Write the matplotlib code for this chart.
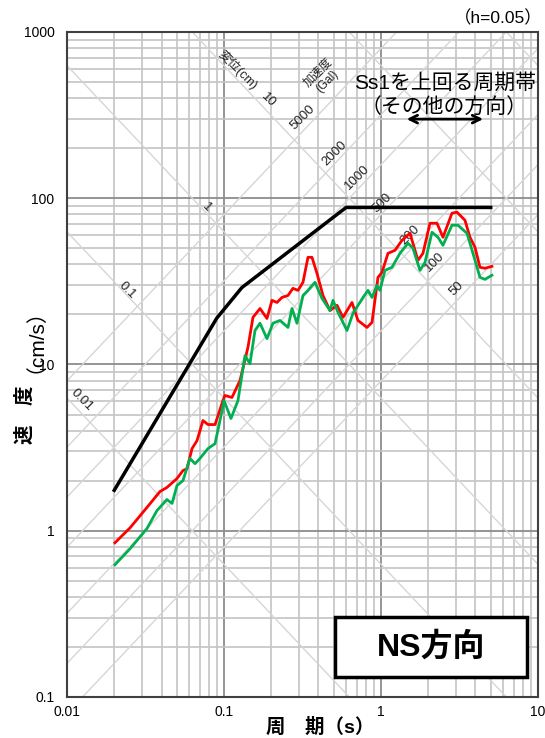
import numpy as np
import matplotlib.pyplot as plt
from matplotlib.patches import Rectangle
from matplotlib.ticker import LogLocator, NullFormatter

plt.rcParams['font.family'] = ['Liberation Sans', 'Noto Sans CJK JP', 'DejaVu Sans']

# ===================== データ =====================

# Ss1 (black envelope)
ss1_period = [0.02, 0.09, 0.13, 0.6, 5.0]
ss1_vel = [1.75, 19.0, 29.0, 88.0, 88.0]

# red spectrum
red_period = [0.0202, 0.0252, 0.0323, 0.0391, 0.0433, 0.0502, 0.0548, 0.0581,
              0.0626, 0.0673, 0.0735, 0.0791, 0.0877, 0.0985, 0.1015, 0.1124,
              0.1265, 0.1422, 0.153, 0.1696, 0.1879, 0.2022, 0.2176, 0.2342,
              0.2557, 0.2751, 0.296, 0.3186, 0.3428, 0.3635, 0.3912, 0.4272,
              0.4733, 0.5246, 0.5728, 0.6537, 0.7137, 0.8145, 0.8765, 0.957,
              1.015, 1.108, 1.228, 1.361, 1.53, 1.721, 1.851, 2.052,
              2.274, 2.483, 2.833, 3.049, 3.428, 3.689, 3.969, 4.272,
              4.597, 5.09]
red_vel = [0.846, 1.04, 1.38, 1.72, 1.82, 2.06, 2.30, 2.36,
           3.12, 3.48, 4.60, 4.35, 4.35, 6.07, 6.51, 6.33,
           8.01, 12.7, 19.2, 21.7, 18.9, 24.3, 23.6, 25.3,
           26.0, 28.7, 27.9, 31.2, 44.1, 44.1, 35.3, 26.0,
           21.1, 22.7, 19.2, 23.6, 18.4, 16.7, 17.9, 33.4,
           35.8, 46.6, 48.6, 55.8, 61.5, 42.3, 46.6, 70.7,
           70.7, 58.2, 81.3, 82.4, 73.7, 58.2, 50.7, 38.4,
           37.9, 38.9]

# green spectrum
green_period = [0.0202, 0.0252, 0.0323, 0.0374, 0.0433, 0.0467, 0.0502, 0.0548,
                0.0607, 0.0654, 0.0703, 0.0791, 0.0877, 0.0943, 0.1, 0.1108,
                0.1228, 0.1361, 0.1464, 0.1576, 0.1696, 0.1879, 0.2052, 0.2274,
                0.2557, 0.2711, 0.2917, 0.3186, 0.3428, 0.3798, 0.4209, 0.4733,
                0.4946, 0.5324, 0.6073, 0.6634, 0.7681, 0.8265, 0.8765, 0.943,
                0.9855, 1.06, 1.175, 1.321, 1.486, 1.599, 1.772, 1.907,
                2.113, 2.307, 2.483, 2.833, 3.094, 3.53, 3.855, 4.272,
                4.597, 5.09]
green_vel = [0.624, 0.779, 1.03, 1.32, 1.54, 1.46, 1.87, 2.00,
             2.72, 2.53, 2.72, 3.12, 3.34, 4.60, 6.07, 4.73,
             6.07, 11.3, 10.1, 16.0, 17.7, 14.3, 17.7, 18.4,
             16.7, 21.7, 17.7, 26.0, 27.9, 31.2, 25.0, 21.1,
             24.3, 20.6, 16.0, 20.3, 25.3, 27.9, 25.3, 29.9,
             27.9, 36.8, 38.4, 46.6, 53.6, 50.0, 36.8, 41.1,
             62.4, 58.2, 52.1, 68.8, 68.8, 61.5, 46.6, 33.4,
             32.5, 34.4]

# tripartite grid levels
disp_levels = [0.01, 0.1, 1, 10, 100, 1000]          # cm
acc_levels = [50, 100, 200, 500, 1000, 2000, 5000]   # Gal

# diagonal labels: (text, period, velocity)
disp_labels = [('10', 0.1905, 389), ('1', 0.078, 88.3),
               ('0.1', 0.0241, 27.9), ('0.01', 0.01246, 6.07)]
acc_labels = [('5000', 0.3186, 308), ('2000', 0.5093, 187), ('1000', 0.7031, 134),
              ('500', 1.015, 93.3), ('200', 1.53, 59.8), ('100', 2.208, 41.1),
              ('50', 3.049, 28.7)]

# Ss1を上回る周期帯
band_start, band_end, band_vel = 1.40, 4.66, 299

x_ticks = [0.01, 0.1, 1, 10]
x_ticklabels = ['0.01', '0.1', '1', '10']
y_ticks = [0.1, 1, 10, 100, 1000]
y_ticklabels = ['0.1', '1', '10', '100', '1000']

# ===================== 描画 =====================

fig = plt.figure(figsize=(5.45, 7.38), dpi=100)
ax = fig.add_axes([0.1229, 0.0556, 0.8642, 0.9011])
ax.set_xscale('log')
ax.set_yscale('log')
ax.set_xlim(0.01, 10)
ax.set_ylim(0.1, 1000)

ax.xaxis.set_minor_locator(LogLocator(base=10, subs=np.arange(2, 10), numticks=20))
ax.yaxis.set_minor_locator(LogLocator(base=10, subs=np.arange(2, 10), numticks=20))
ax.xaxis.set_minor_formatter(NullFormatter())
ax.yaxis.set_minor_formatter(NullFormatter())
ax.grid(which='major', color='#8c8c8c', lw=1.3, zorder=0)
ax.grid(which='minor', color='#c4c4c4', lw=1.2, zorder=0)
ax.set_axisbelow(True)

# diagonal lines
T = np.logspace(-2.2, 1.2, 50)
for d in disp_levels:
    ax.plot(T, 2 * np.pi * d / T, color='#d6d6d6', lw=1.0, zorder=1)
for a in acc_levels:
    ax.plot(T, a * T / (2 * np.pi), color='#d6d6d6', lw=1.0, zorder=1)

for txt, t, v in disp_labels:
    ax.text(t, v, txt, rotation=-45, fontsize=9.5, ha='center', va='center',
            color='#222222', zorder=2)
for txt, t, v in acc_labels:
    ax.text(t, v, txt, rotation=45, fontsize=9.5, ha='center', va='center',
            color='#222222', zorder=2)
ax.text(0.1228, 590, '変位(cm)', rotation=-45, fontsize=9, ha='center', va='center',
        color='#222222', zorder=2)
ax.text(0.4272, 535, '加速度\n(Gal)', rotation=45, fontsize=8.5, ha='center',
        va='center', color='#222222', linespacing=1.1, zorder=2)

# spectra
ax.plot(red_period, red_vel, color='#ff0000', lw=2, zorder=4)
ax.plot(green_period, green_vel, color='#00b050', lw=2, zorder=4)
ax.plot(ss1_period, ss1_vel, color='black', lw=2.5, zorder=5)

# period band annotation
ax.annotate('', xy=(band_end, band_vel), xytext=(band_start, band_vel),
            arrowprops=dict(arrowstyle='<->', lw=2, color='black',
                            mutation_scale=14), zorder=6)
ax.text(0.803, 0.923, 'Ss1を上回る周期帯', transform=ax.transAxes, fontsize=15,
        ha='center', va='center', zorder=6)
ax.text(0.800, 0.887, '（その他の方向）', transform=ax.transAxes, fontsize=15,
        ha='center', va='center', zorder=6)

# NS方向 box
ax.add_patch(Rectangle((0.569, 0.030), 0.408, 0.091, transform=ax.transAxes,
                       facecolor='white', edgecolor='black', lw=2.5, zorder=7))
ax.text(0.773, 0.075, 'NS方向', transform=ax.transAxes, fontsize=23,
        fontweight='bold', ha='center', va='center', zorder=8)

ax.set_xticks(x_ticks)
ax.set_xticklabels(x_ticklabels)
ax.set_yticks(y_ticks)
ax.set_yticklabels(y_ticklabels)
ax.tick_params(which='both', length=0, labelsize=10)
ax.tick_params(axis='x', pad=6)
ax.tick_params(axis='y', pad=9)
for s in ax.spines.values():
    s.set_color('#404040')
    s.set_linewidth(1.5)

fig.text(0.587, 0.015, '周　期（s）', fontsize=14, fontweight='bold',
         ha='center', va='center')
fig.text(0.046, 0.438, '速　度', fontsize=14, fontweight='bold', rotation=90,
         ha='center', va='center')
fig.text(0.046, 0.553, '（cm/s）', fontsize=15, rotation=90,
         ha='center', va='center')
fig.text(0.914, 0.976, '（h=0.05）', fontsize=12.5, ha='center', va='center')

fig.savefig('out.png', dpi=100)
